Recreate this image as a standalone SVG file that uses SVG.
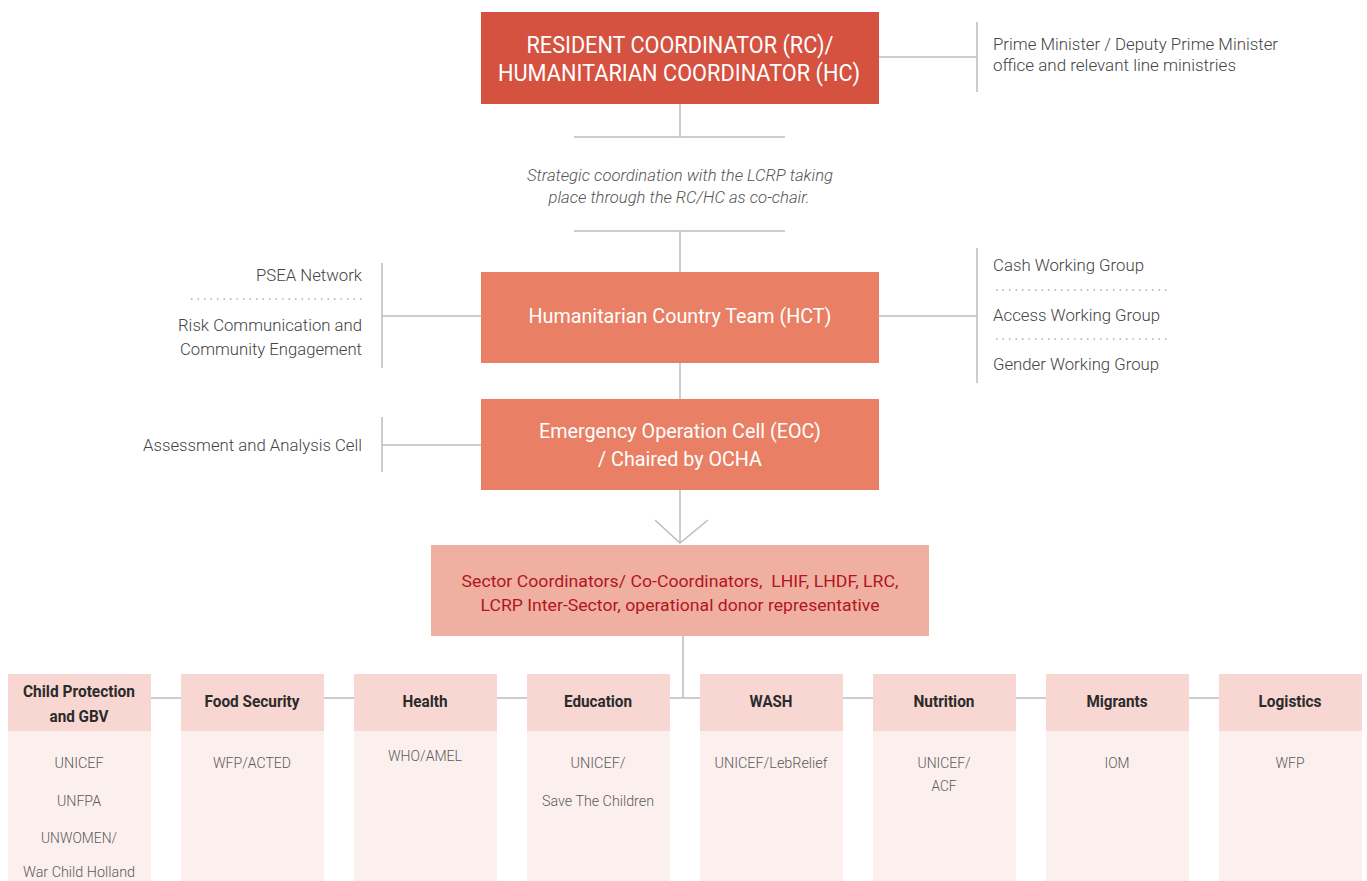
<svg xmlns="http://www.w3.org/2000/svg" width="1367" height="881" viewBox="0 0 1367 881">
<style>
text{font-family:Roboto,"Liberation Sans",sans-serif}
.lbl{font-size:17px;font-weight:300;fill:#444}
.ctr{text-anchor:middle}
.end{text-anchor:end}
.wh{fill:#fff;font-weight:400}
.it{font-size:16px;font-style:italic;font-weight:300;fill:#555;text-anchor:middle}
.red{font-size:17px;fill:#B3151E;text-anchor:middle}
.hd{font-size:16px;font-weight:700;fill:#2b2b2b;text-anchor:middle}
.bd{font-size:15px;font-weight:300;fill:#5a5a5a;text-anchor:middle}
.ln{stroke:#BDBDBD;stroke-width:1.5;fill:none}
.dot{stroke:#AAAAAA;stroke-width:1.5;stroke-dasharray:1.5 5;fill:none}
.hbox{fill:#F8D6D1}
.bbox{fill:#FCF0EE}
</style>
<rect width="1367" height="881" fill="#fff"/>
<g id="connectors">
<line class="ln" x1="680" y1="104" x2="680" y2="137"/>
<line class="ln" x1="574" y1="137" x2="785" y2="137"/>
<line class="ln" x1="574" y1="231" x2="785" y2="231"/>
<line class="ln" x1="680" y1="231" x2="680" y2="272"/>
<line class="ln" x1="680" y1="363" x2="680" y2="399"/>
<line class="ln" x1="680" y1="490" x2="680" y2="543"/>
<polyline class="ln" points="655,520 680,543 708,520"/>
<line class="ln" x1="683" y1="636" x2="683" y2="698"/>
<line class="ln" x1="8" y1="698" x2="1362" y2="698"/>
<line class="ln" x1="879" y1="57" x2="977" y2="57"/>
<line class="ln" x1="977" y1="22" x2="977" y2="92"/>
<line class="ln" x1="879" y1="316" x2="977" y2="316"/>
<line class="ln" x1="977" y1="248" x2="977" y2="383"/>
<line class="ln" x1="382" y1="316" x2="481" y2="316"/>
<line class="ln" x1="382" y1="263" x2="382" y2="368"/>
<line class="ln" x1="382" y1="445" x2="481" y2="445"/>
<line class="ln" x1="382" y1="417" x2="382" y2="472"/>
</g>
<g id="rc">
<rect x="481" y="12" width="398" height="92" fill="#D55140"/>
<text class="wh ctr" font-size="23" x="680" y="53" textLength="307" lengthAdjust="spacingAndGlyphs">RESIDENT COORDINATOR (RC)/</text>
<text class="wh ctr" font-size="23" x="679" y="81" textLength="362" lengthAdjust="spacingAndGlyphs">HUMANITARIAN COORDINATOR (HC)</text>
</g>
<g id="strategic-note">
<text class="it" x="680" y="181" textLength="306" lengthAdjust="spacingAndGlyphs">Strategic coordination with the LCRP taking</text>
<text class="it" x="679" y="203" textLength="261" lengthAdjust="spacingAndGlyphs">place through the RC/HC as co-chair.</text>
</g>
<g id="pm">
<text class="lbl" x="993" y="50" textLength="285" lengthAdjust="spacingAndGlyphs">Prime Minister / Deputy Prime Minister</text>
<text class="lbl" x="993" y="71" textLength="243" lengthAdjust="spacingAndGlyphs">office and relevant line ministries</text>
</g>
<g id="hct">
<rect x="481" y="272" width="398" height="91" fill="#E97F65"/>
<text class="wh ctr" font-size="20" x="680" y="323" textLength="303" lengthAdjust="spacingAndGlyphs">Humanitarian Country Team (HCT)</text>
</g>
<g id="left-groups">
<text class="lbl end" x="362" y="281" textLength="106" lengthAdjust="spacingAndGlyphs">PSEA Network</text>
<line class="dot" x1="191" y1="299" x2="362" y2="299"/>
<text class="lbl end" x="362" y="331" textLength="184" lengthAdjust="spacingAndGlyphs">Risk Communication and</text>
<text class="lbl end" x="362" y="355" textLength="182" lengthAdjust="spacingAndGlyphs">Community Engagement</text>
</g>
<g id="working-groups">
<text class="lbl" x="993" y="271" textLength="151" lengthAdjust="spacingAndGlyphs">Cash Working Group</text>
<line class="dot" x1="996" y1="290" x2="1170" y2="290"/>
<text class="lbl" x="993" y="321" textLength="167" lengthAdjust="spacingAndGlyphs">Access Working Group</text>
<line class="dot" x1="996" y1="339" x2="1170" y2="339"/>
<text class="lbl" x="993" y="370" textLength="166" lengthAdjust="spacingAndGlyphs">Gender Working Group</text>
</g>
<g id="eoc">
<rect x="481" y="399" width="398" height="91" fill="#E97F65"/>
<text class="wh ctr" font-size="20" x="680" y="438" textLength="282" lengthAdjust="spacingAndGlyphs">Emergency Operation Cell (EOC)</text>
<text class="wh ctr" font-size="20" x="680" y="466" textLength="164" lengthAdjust="spacingAndGlyphs">/ Chaired by OCHA</text>
</g>
<g id="assessment">
<text class="lbl end" x="362" y="451" textLength="219" lengthAdjust="spacingAndGlyphs">Assessment and Analysis Cell</text>
</g>
<g id="sector-coordinators">
<rect x="431" y="545" width="498" height="91" fill="#EFB0A2"/>
<text class="red" x="680" y="587" textLength="437" lengthAdjust="spacingAndGlyphs" xml:space="preserve">Sector Coordinators/ Co-Coordinators,  LHIF, LHDF, LRC,</text>
<text class="red" x="680" y="611" textLength="399" lengthAdjust="spacingAndGlyphs">LCRP Inter-Sector, operational donor representative</text>
</g>
<g id="child-protection">
<rect class="hbox" x="8" y="674" width="143" height="57"/>
<rect class="bbox" x="8" y="731" width="143" height="150"/>
<text class="hd" x="79" y="697" textLength="112" lengthAdjust="spacingAndGlyphs">Child Protection</text>
<text class="hd" x="79" y="722" textLength="59" lengthAdjust="spacingAndGlyphs">and GBV</text>
<text class="bd" x="79" y="768" textLength="49" lengthAdjust="spacingAndGlyphs">UNICEF</text>
<text class="bd" x="79" y="806" textLength="44" lengthAdjust="spacingAndGlyphs">UNFPA</text>
<text class="bd" x="79" y="843" textLength="76" lengthAdjust="spacingAndGlyphs">UNWOMEN/</text>
<text class="bd" x="79" y="877" textLength="112" lengthAdjust="spacingAndGlyphs">War Child Holland</text>
</g>
<g id="food-security">
<rect class="hbox" x="181" y="674" width="143" height="57"/>
<rect class="bbox" x="181" y="731" width="143" height="150"/>
<text class="hd" x="252" y="707" textLength="95" lengthAdjust="spacingAndGlyphs">Food Security</text>
<text class="bd" x="252" y="768" textLength="78" lengthAdjust="spacingAndGlyphs">WFP/ACTED</text>
</g>
<g id="health">
<rect class="hbox" x="354" y="674" width="143" height="57"/>
<rect class="bbox" x="354" y="731" width="143" height="150"/>
<text class="hd" x="425" y="707" textLength="45" lengthAdjust="spacingAndGlyphs">Health</text>
<text class="bd" x="425" y="761" textLength="74" lengthAdjust="spacingAndGlyphs">WHO/AMEL</text>
</g>
<g id="education">
<rect class="hbox" x="527" y="674" width="143" height="57"/>
<rect class="bbox" x="527" y="731" width="143" height="150"/>
<text class="hd" x="598" y="707" textLength="68" lengthAdjust="spacingAndGlyphs">Education</text>
<text class="bd" x="598" y="768" textLength="55" lengthAdjust="spacingAndGlyphs">UNICEF/</text>
<text class="bd" x="598" y="806" textLength="112" lengthAdjust="spacingAndGlyphs">Save The Children</text>
</g>
<g id="wash">
<rect class="hbox" x="700" y="674" width="143" height="57"/>
<rect class="bbox" x="700" y="731" width="143" height="150"/>
<text class="hd" x="771" y="707" textLength="43" lengthAdjust="spacingAndGlyphs">WASH</text>
<text class="bd" x="771" y="768" textLength="113" lengthAdjust="spacingAndGlyphs">UNICEF/LebRelief</text>
</g>
<g id="nutrition">
<rect class="hbox" x="873" y="674" width="143" height="57"/>
<rect class="bbox" x="873" y="731" width="143" height="150"/>
<text class="hd" x="944" y="707" textLength="61" lengthAdjust="spacingAndGlyphs">Nutrition</text>
<text class="bd" x="944" y="768" textLength="53" lengthAdjust="spacingAndGlyphs">UNICEF/</text>
<text class="bd" x="944" y="791" textLength="25" lengthAdjust="spacingAndGlyphs">ACF</text>
</g>
<g id="migrants">
<rect class="hbox" x="1046" y="674" width="143" height="57"/>
<rect class="bbox" x="1046" y="731" width="143" height="150"/>
<text class="hd" x="1117" y="707" textLength="61" lengthAdjust="spacingAndGlyphs">Migrants</text>
<text class="bd" x="1117" y="768" textLength="25" lengthAdjust="spacingAndGlyphs">IOM</text>
</g>
<g id="logistics">
<rect class="hbox" x="1219" y="674" width="143" height="57"/>
<rect class="bbox" x="1219" y="731" width="143" height="150"/>
<text class="hd" x="1290" y="707" textLength="63" lengthAdjust="spacingAndGlyphs">Logistics</text>
<text class="bd" x="1290" y="768" textLength="29" lengthAdjust="spacingAndGlyphs">WFP</text>
</g>
</svg>
